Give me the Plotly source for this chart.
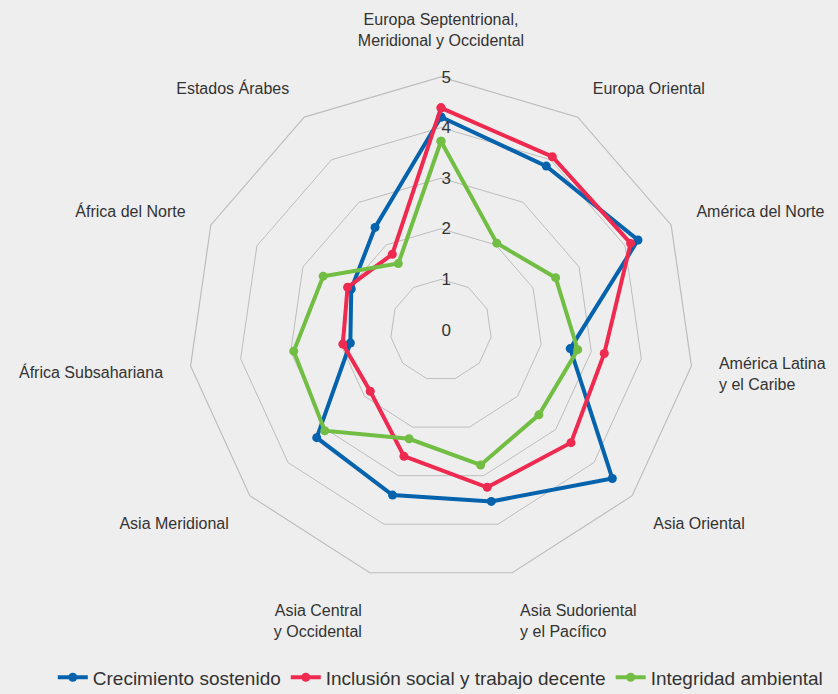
import plotly.graph_objects as go

# Regions, clockwise from the top of the radar
regiones = [
    "Europa Septentrional,<br>Meridional y Occidental",
    "Europa Oriental",
    "América del Norte",
    "América Latina<br>y el Caribe",
    "Asia Oriental",
    "Asia Sudoriental<br>y el Pacífico",
    "Asia Central<br>y Occidental",
    "Asia Meridional",
    "África Subsahariana",
    "África del Norte",
    "Estados Árabes",
]

crecimiento = [4.21, 3.85, 4.28, 2.58, 4.48, 3.53, 3.40, 3.25, 1.81, 1.95, 2.41]
inclusion = [4.39, 4.07, 4.12, 3.26, 3.40, 3.24, 2.60, 1.85, 1.96, 2.03, 1.78]
integridad = [3.73, 2.04, 2.49, 2.73, 2.56, 2.78, 2.24, 3.04, 2.94, 2.56, 1.56]

radial_ticks = [0, 1, 2, 3, 4, 5]

series = [
    ("Crecimiento sostenido", crecimiento, "#0563AD"),
    ("Inclusión social y trabajo decente", inclusion, "#EE2A50"),
    ("Integridad ambiental", integridad, "#72BE44"),
]

FONT = "Liberation Sans Narrow, Arial Narrow, sans-serif"

fig = go.Figure()
for name, vals, color in series:
    fig.add_trace(go.Scatterpolar(
        r=vals + vals[:1],
        theta=regiones + regiones[:1],
        name=name,
        mode="lines+markers",
        line=dict(color=color, width=4),
        marker=dict(color=color, size=9),
    ))

fig.update_layout(
    width=838,
    height=694,
    paper_bgcolor="#EEEEEE",
    plot_bgcolor="#EEEEEE",
    margin=dict(l=0, r=0, t=0, b=0, autoexpand=False),
    font=dict(family=FONT, size=16, color="#333333"),
    polar=dict(
        domain=dict(x=[188 / 838, 694 / 838], y=[111 / 694, 617 / 694]),
        bgcolor="#EEEEEE",
        gridshape="linear",
        radialaxis=dict(
            range=[0, 5],
            tickvals=radial_ticks,
            angle=90,
            tickangle=90,
            showline=False,
            ticks="",
            gridcolor="#BDBDBD",
            gridwidth=1.2,
            tickfont=dict(size=17, color="#333333"),
        ),
        angularaxis=dict(
            direction="clockwise",
            rotation=90,
            showgrid=False,
            showline=True,
            linecolor="#BDBDBD",
            linewidth=1.2,
            ticks="outside",
            ticklen=24,
            tickcolor="rgba(0,0,0,0)",
            tickfont=dict(size=16, color="#333333"),
        ),
    ),
    legend=dict(
        orientation="h",
        x=0.526,
        xanchor="center",
        y=0.024,
        yanchor="middle",
        font=dict(size=19, color="#333333"),
        bgcolor="rgba(0,0,0,0)",
    ),
)

fig.write_html("out.html")
